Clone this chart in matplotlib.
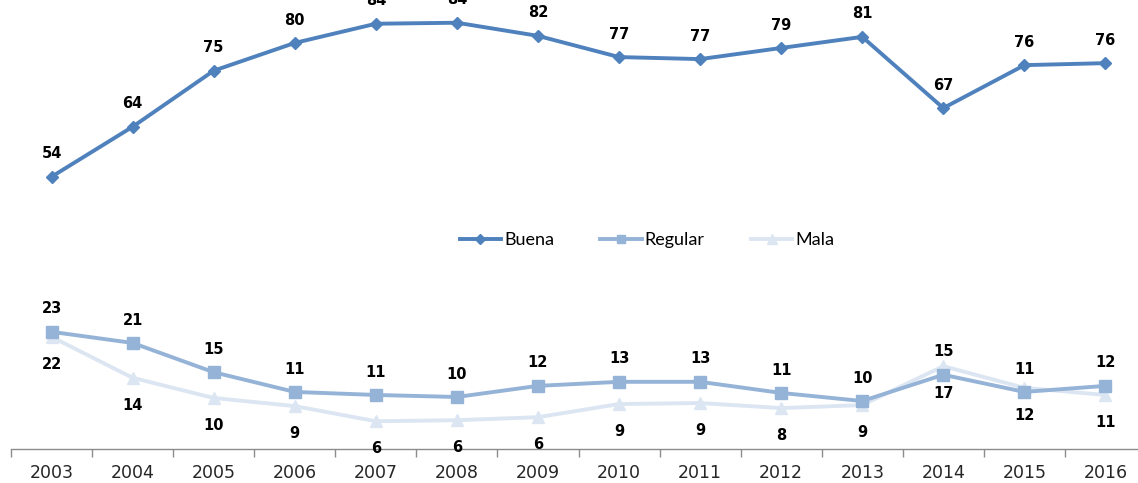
import matplotlib
matplotlib.use("Agg")
import matplotlib.pyplot as plt
import numpy as np

years = ['2003', '2004', '2005', '2006', '2007', '2008', '2009',
         '2010', '2011', '2012', '2013', '2014', '2015', '2016']

buena = [53.9, 63.8, 74.9, 80.4, 84.2, 84.4, 81.8, 77.6, 77.2, 79.4, 81.6, 67.5, 76.0, 76.4]
regular = [23.2, 21.0, 15.2, 11.3, 10.7, 10.3, 12.5, 13.3, 13.3, 11.1, 9.5, 14.7, 11.3, 12.5]
mala = [22.2, 14.1, 10.1, 8.5, 5.5, 5.7, 6.3, 8.9, 9.1, 8.1, 8.7, 16.4, 12.1, 10.7]

buena_labels = [54, 64, 75, 80, 84, 84, 82, 77, 77, 79, 81, 67, 76, 76]
regular_labels = [23, 21, 15, 11, 11, 10, 12, 13, 13, 11, 10, 15, 11, 12]
mala_labels = [22, 14, 10, 9, 6, 6, 6, 9, 9, 8, 9, 17, 12, 11]

c_buena = '#4F81BD'
c_regular = '#95B3D7'
c_mala = '#DCE6F2'

fig = plt.figure(figsize=(11.38, 4.83), dpi=100)
# axis spans a bit past the right edge, like the original
ax = fig.add_axes([11 / 1138, 34 / 483, 1135 / 1138, 449 / 483])

x = np.arange(len(years))
ax.plot(x, mala, color=c_mala, lw=2.8, marker='^', ms=9, label='Mala', zorder=2)
ax.plot(x, regular, color=c_regular, lw=2.8, marker='s', ms=8.5, label='Regular', zorder=3)
ax.plot(x, buena, color=c_buena, lw=2.8, marker='D', ms=6.5, label='Buena', zorder=4)

lab_kw = dict(ha='center', va='center', fontsize=10.5, fontweight='bold',
              family='DejaVu Sans', color='black', clip_on=False)
for i in range(len(years)):
    ax.annotate(str(buena_labels[i]), (x[i], buena[i]), xytext=(0, 16.5),
                textcoords='offset points', **lab_kw)
    ax.annotate(str(regular_labels[i]), (x[i], regular[i]), xytext=(0, 16.5),
                textcoords='offset points', **lab_kw)
    ax.annotate(str(mala_labels[i]), (x[i], mala[i]), xytext=(0, -20),
                textcoords='offset points', **lab_kw)

ax.set_xlim(-0.5, len(years) - 0.5)
ax.set_ylim(0, 88.9)
ax.set_yticks([])
for s in ['top', 'right', 'left']:
    ax.spines[s].set_visible(False)
ax.spines['bottom'].set_color('#8C8C8C')
ax.spines['bottom'].set_linewidth(1)

ax.set_xticks(x)
ax.set_xticklabels(years, family='DejaVu Sans', fontsize=12.5, color='#262626')
ax.tick_params(axis='x', which='major', length=0, pad=11)
ax.set_xticks(np.arange(-0.5, len(years), 1), minor=True)
ax.tick_params(axis='x', which='minor', length=6, color='#8C8C8C', width=1, direction='out')

handles, labels = ax.get_legend_handles_labels()
order = [2, 1, 0]
leg = fig.legend([handles[i] for i in order], [labels[i] for i in order],
                 loc='center', bbox_to_anchor=(647 / 1138, 1 - 240 / 483),
                 ncol=3, frameon=False, prop={'family': 'Lato', 'size': 13},
                 handlelength=2.3, handletextpad=0.17, columnspacing=2.55,
                 markerscale=0.75)

fig.savefig('out.png', dpi=100)
